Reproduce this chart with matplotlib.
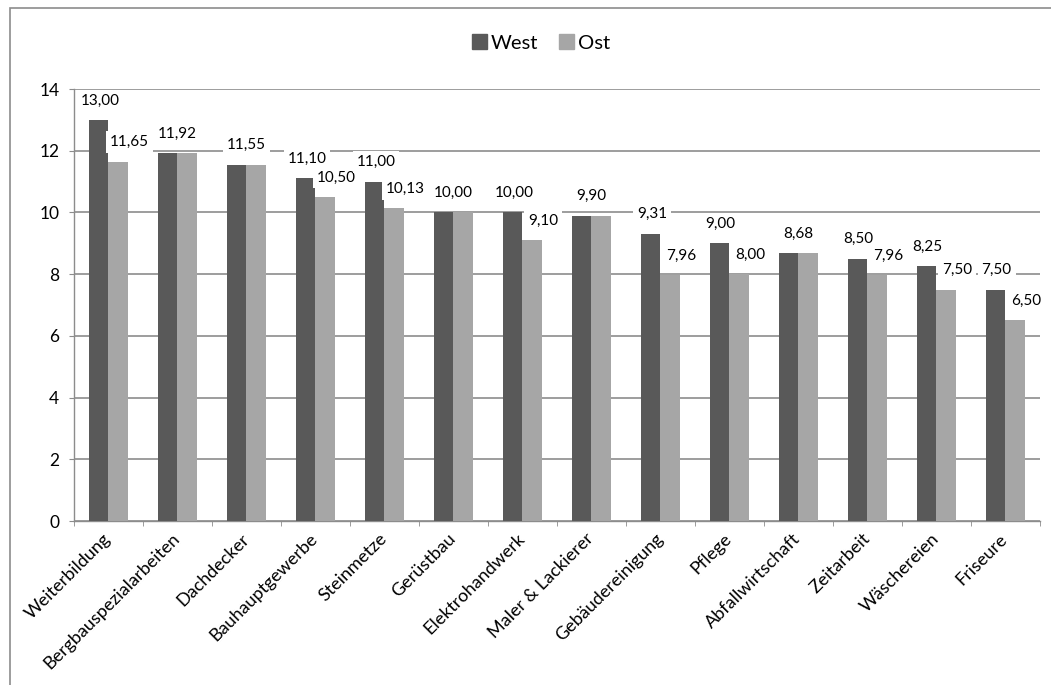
import matplotlib
matplotlib.use("Agg")
import matplotlib.pyplot as plt
from matplotlib.patches import Rectangle, Patch
import numpy as np

categories = ["Weiterbildung", "Bergbauspezialarbeiten", "Dachdecker", "Bauhauptgewerbe",
              "Steinmetze", "Gerüstbau", "Elektrohandwerk", "Maler & Lackierer",
              "Gebäudereinigung", "Pflege", "Abfallwirtschaft", "Zeitarbeit",
              "Wäschereien", "Friseure"]
west = [13.00, 11.92, 11.55, 11.10, 11.00, 10.00, 10.00, 9.90, 9.31, 9.00, 8.68, 8.50, 8.25, 7.50]
ost = [11.65, 11.92, 11.55, 10.50, 10.13, 10.00, 9.10, 9.90, 7.96, 8.00, 8.68, 7.96, 7.50, 6.50]
yticks = [0, 2, 4, 6, 8, 10, 12, 14]

plt.rcParams['font.family'] = ['Lato', 'DejaVu Sans']

W, H = 1051, 685
fig = plt.figure(figsize=(W / 100, H / 100), dpi=100)
ax = fig.add_axes([74 / W, 1 - 521 / H, (1039.5 - 74) / W, (521 - 89) / H])

c_west = '#595959'
c_ost = '#a6a6a6'
grid_c = '#8c8c8c'
bw = 0.283
x = np.arange(len(categories))
ax.bar(x - bw / 2, west, width=bw, color=c_west, zorder=3, label='West')
ax.bar(x + bw / 2, ost, width=bw, color=c_ost, zorder=3, label='Ost')

ax.set_xlim(-0.5, len(categories) - 0.5)
ax.set_ylim(0, 14)
ax.set_yticks(yticks)
ax.set_yticklabels([str(v) for v in yticks], fontsize=12.5)
ax.yaxis.grid(True, color=grid_c, lw=1.2, zorder=0)
ax.set_axisbelow(True)
for s in ['top', 'right']:
    ax.spines[s].set_visible(False)
for s in ['left', 'bottom']:
    ax.spines[s].set_color(grid_c)
    ax.spines[s].set_linewidth(1.0)
ax.tick_params(axis='y', length=3.6, color=grid_c, pad=7)
ax.set_xticks(x)
ax.set_xticks(np.arange(-0.5, len(categories), 1.0), minor=True)
ax.tick_params(axis='x', which='major', length=0, pad=11)
ax.tick_params(axis='x', which='minor', length=3.6, color=grid_c)
ax.set_xticklabels(categories, rotation=45, ha='right', rotation_mode='anchor',
                   fontsize=13)
for lbl in ax.get_xticklabels():
    lbl.set_va('center')


def fmt(v):
    return f"{v:.2f}".replace('.', ',')


fs = 11
box = dict(boxstyle='square,pad=0.25', fc='white', ec='none')
for i, (w, o) in enumerate(zip(west, ost)):
    if abs(w - o) < 1e-9:
        ax.annotate(fmt(w), xy=(i, w), xytext=(0, 14), textcoords='offset points',
                    ha='center', va='center', fontsize=fs, bbox=box, zorder=6)
    else:
        ax.annotate(fmt(w), xy=(i - bw / 2, w), xytext=(1, 14), textcoords='offset points',
                    ha='center', va='center', fontsize=fs, bbox=box, zorder=6)
        ax.annotate(fmt(o), xy=(i + bw / 2, o), xytext=(8, 14), textcoords='offset points',
                    ha='center', va='center', fontsize=fs, bbox=box, zorder=6)

handles = [Patch(color=c_west), Patch(color=c_ost)]
fig.legend(handles, ['West', 'Ost'], loc='center', bbox_to_anchor=(541 / W, 1 - 43 / H),
           ncol=2, frameon=False, fontsize=14.5, handlelength=0.75, handleheight=0.75,
           handletextpad=0.2, columnspacing=1.0)

fig.patches.append(Rectangle((10 / W, -0.1), 1.2, 1.1 - 8 / H, transform=fig.transFigure,
                             fill=False, ec='#8c8c8c', lw=1.2))

fig.savefig('out.png', dpi=100, facecolor='white')
